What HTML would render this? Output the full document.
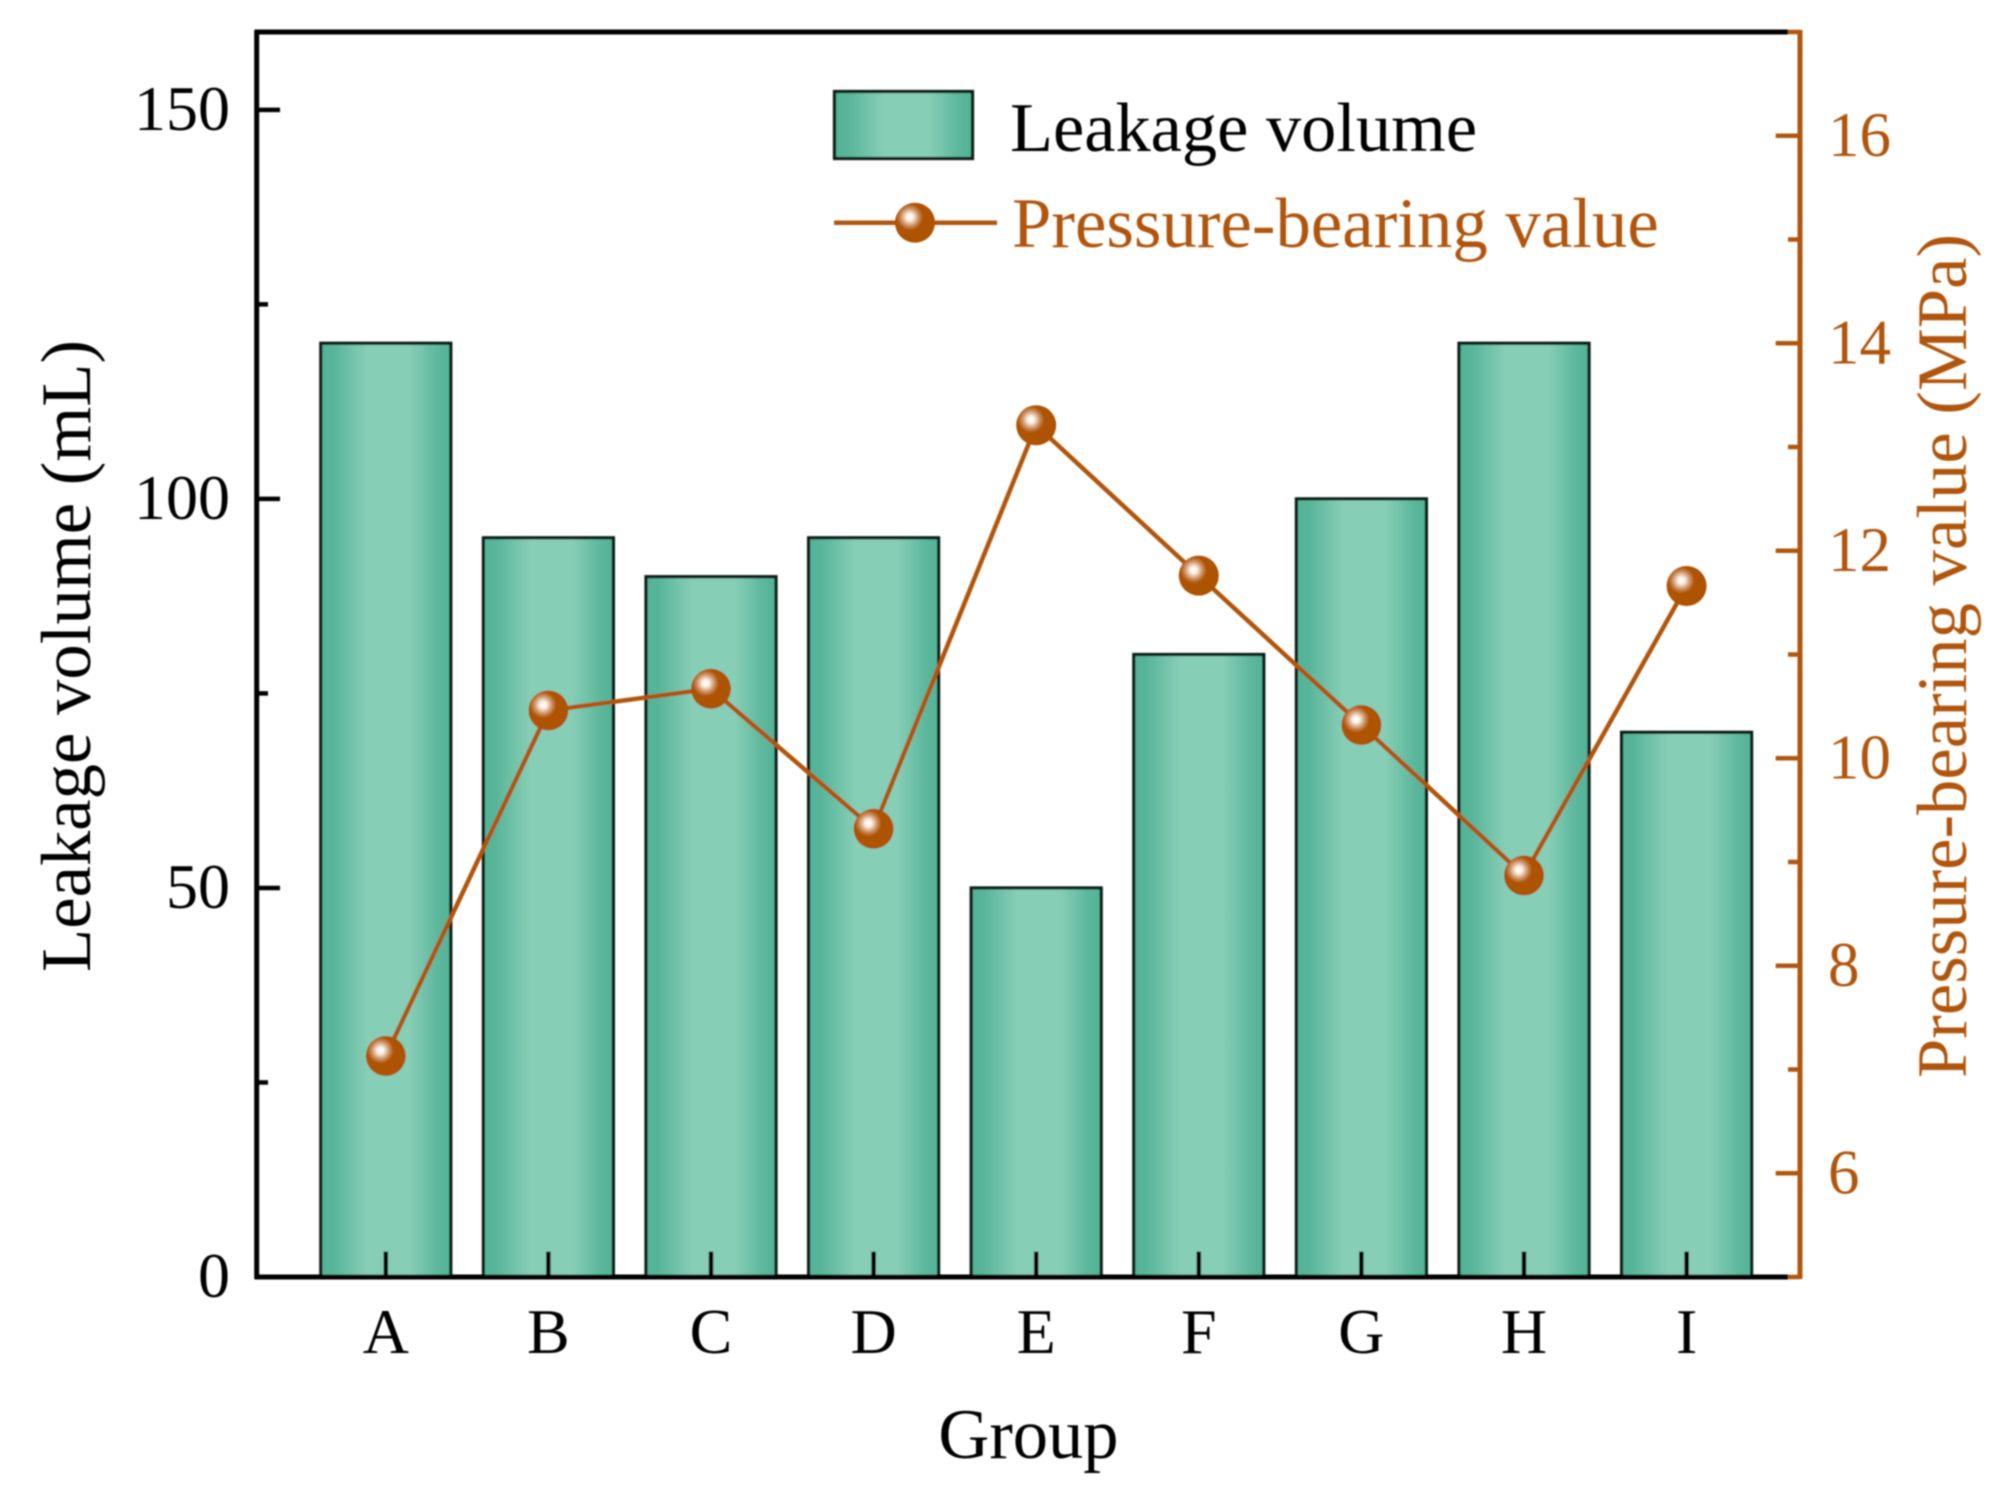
<!DOCTYPE html>
<html lang="en">
<head>
<meta charset="utf-8">
<title>Leakage volume and pressure-bearing value by group</title>
<style>
  html, body { margin: 0; padding: 0; background: #fff; }
  svg { display: block; }
  text { font-family: "Liberation Serif", serif; }
</style>
</head>
<body>
<svg id="chart" xmlns="http://www.w3.org/2000/svg" width="2015" height="1502" viewBox="0 0 2015 1502">
  <defs>
    <linearGradient id="barGrad" x1="0" y1="0" x2="1" y2="0">
      <stop offset="0" stop-color="#53b296"/>
      <stop offset="0.1" stop-color="#58b59a"/>
      <stop offset="0.36" stop-color="#87ceb6"/>
      <stop offset="0.68" stop-color="#87ceb6"/>
      <stop offset="0.9" stop-color="#5cb79c"/>
      <stop offset="1" stop-color="#53b296"/>
    </linearGradient>
    <radialGradient id="ballGrad" gradientUnits="objectBoundingBox" cx="0.37" cy="0.36" r="0.5" fx="0.37" fy="0.36">
      <stop offset="0" stop-color="#ffffff"/>
      <stop offset="0.16" stop-color="#fdf3ea"/>
      <stop offset="0.45" stop-color="#cb8d5d"/>
      <stop offset="0.66" stop-color="#ae5206"/>
      <stop offset="1" stop-color="#ae5206"/>
    </radialGradient>
    <filter id="soft" x="-2%" y="-2%" width="104%" height="104%">
      <feGaussianBlur stdDeviation="0.7"/>
    </filter>
  </defs>
  <rect width="2015" height="1502" fill="#ffffff"/>
  <g id="root" filter="url(#soft)"></g>
</svg>
<script>
const categories = ["A", "B", "C", "D", "E", "F", "G", "H", "I"];
const leakageVolume = [120, 95, 90, 95, 50, 80, 100, 120, 70];
const pressureValue = [7.13, 10.46, 10.67, 9.32, 13.21, 11.76, 10.32, 8.87, 11.66];
const leftMajorTicks = [0, 50, 100, 150];
const leftMinorTicks = [25, 75, 125];
const rightMajorTicks = [6, 8, 10, 12, 14, 16];
const rightMinorTicks = [5, 7, 9, 11, 13, 15, 17];

const ORANGE = "#b05507";
const plot = { left: 256.7, right: 1800, top: 32, bottom: 1277 };
const leftDomain = [0, 160];
const rightDomain = [5, 17];
const band = 162.6;
const firstCenter = 385.8;
const barWidth = 130;

function xScale(i) { return firstCenter + band * i; }
function yLeft(v) {
  return plot.bottom - (v - leftDomain[0]) / (leftDomain[1] - leftDomain[0]) * (plot.bottom - plot.top);
}
function yRight(v) {
  return plot.bottom - (v - rightDomain[0]) / (rightDomain[1] - rightDomain[0]) * (plot.bottom - plot.top);
}

const root = document.getElementById("root");
const NS = "http://www.w3.org/2000/svg";
function make(tag, props, text) {
  const el = document.createElementNS(NS, tag);
  for (const k in props) el.setAttribute(k, props[k]);
  if (text !== undefined) el.textContent = text;
  root.appendChild(el);
  return el;
}
function seg(x1, y1, x2, y2, color, w) {
  return make("line", { x1: x1, y1: y1, x2: x2, y2: y2, stroke: color, "stroke-width": w });
}
function label(x, y, str, size, color, anchor) {
  return make("text", { x: x, y: y, "font-size": size, fill: color, "text-anchor": anchor }, str);
}

// bars
categories.forEach(function (c, i) {
  const top = yLeft(leakageVolume[i]);
  const bar = make("rect", {
    x: xScale(i) - barWidth / 2, y: top, width: barWidth, height: plot.bottom - top,
    fill: "url(#barGrad)", stroke: "#0c1a16", "stroke-width": 3.2
  });
  
  
});

// x ticks and labels
categories.forEach(function (c, i) {
  const t = seg(xScale(i), plot.bottom, xScale(i), 1251.5, "#000", 4.5);
  
  
  const l = label(xScale(i), 1353, c, 64, "#000", "middle");
  
  
});

// left axis ticks
leftMajorTicks.forEach(function (v) {
  const t = seg(plot.left, yLeft(v), 280, yLeft(v), "#000", 4.5);
  
  
  const l = label(230, yLeft(v) + 20, String(v), 64, "#000", "end");
  
  
});
leftMinorTicks.forEach(function (v) {
  const t = seg(plot.left, yLeft(v), 268, yLeft(v), "#000", 4.5);
  
  
});

// axis lines
const topAxis = seg(plot.left - 2, plot.top, 1788, plot.top, "#000", 5);


const bottomAxis = seg(plot.left - 2, plot.bottom, 1788, plot.bottom, "#000", 5);


const leftAxis = seg(plot.left, plot.top - 2, plot.left, plot.bottom + 2, "#000", 5);



// right axis
rightMinorTicks.forEach(function (v) {
  const t = seg(plot.right, yRight(v), 1788, yRight(v), ORANGE, 4.5);
  
  
});
rightMajorTicks.forEach(function (v) {
  const t = seg(plot.right, yRight(v), 1775.7, yRight(v), ORANGE, 4.5);
  
  
  const l = label(1828, yRight(v) + 20, String(v), 63, ORANGE, "start");
  
  
});
const rightAxis = seg(plot.right, plot.top - 2, plot.right, plot.bottom + 2, ORANGE, 5);



// pressure line
const linePoints = pressureValue.map(function (v, i) { return xScale(i) + "," + yRight(v); }).join(" ");
const pressureLine = make("polyline", { points: linePoints, fill: "none", stroke: ORANGE, "stroke-width": 4.5 });



pressureValue.forEach(function (v, i) {
  const p = make("circle", { cx: xScale(i), cy: yRight(v), r: 20, fill: "url(#ballGrad)" });
  
  
});

// axis titles
const yTitle = make("text", { transform: "translate(90,656) rotate(-90)", "font-size": 70.7, fill: "#000", "text-anchor": "middle" }, "Leakage volume (mL)");


const y2Title = make("text", { transform: "translate(1966,656) rotate(-90)", "font-size": 70.7, fill: ORANGE, "text-anchor": "middle" }, "Pressure-bearing value (MPa)");


const xTitle = label(1028.5, 1458, "Group", 70.5, "#000", "middle");



// legend
const swatch = make("rect", { x: 834.5, y: 91.5, width: 138, height: 67, fill: "url(#barGrad)", stroke: "#0c1a16", "stroke-width": 3.2 });


const legendA = label(1010, 151, "Leakage volume", 70.4, "#000", "start");


const legendLine = seg(834, 222.7, 997, 222.7, ORANGE, 4.5);


const legendDot = make("circle", { cx: 915, cy: 222.7, r: 20, fill: "url(#ballGrad)" });


const legendB = label(1012, 247, "Pressure-bearing value", 70.8, ORANGE, "start");


</script>
</body>
</html>
